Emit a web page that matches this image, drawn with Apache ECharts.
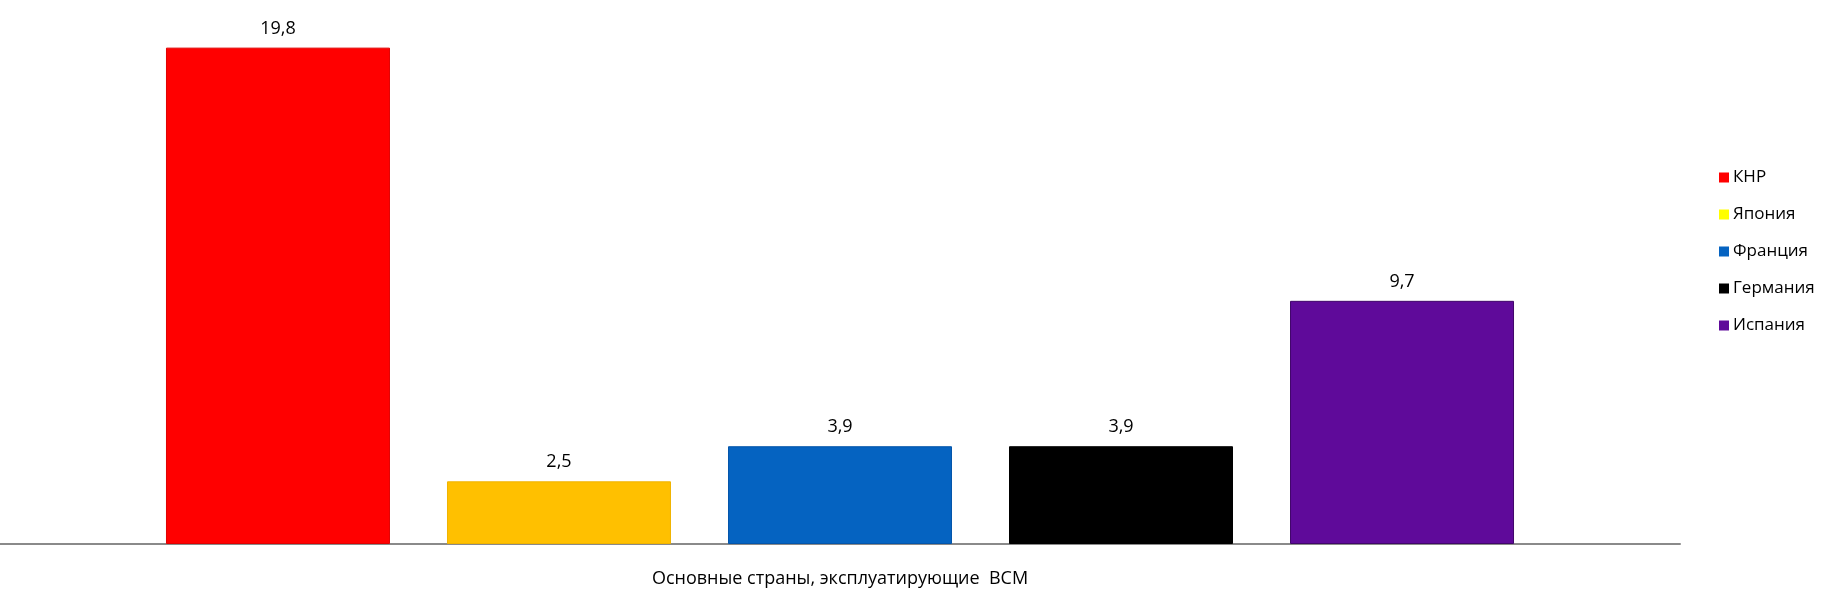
<!DOCTYPE html>
<html><head><meta charset="utf-8">
<script src="https://cdn.jsdelivr.net/npm/echarts@6/dist/echarts.min.js"></script>
<style>html,body{margin:0;padding:0;background:#fff}#c{width:1831px;height:600px}</style>
</head><body><div id="c"></div>
<script>
const categories = ['Основные страны, эксплуатирующие  ВСМ'];
const countries = ['КНР', 'Япония', 'Франция', 'Германия', 'Испания'];
const values = [19.8, 2.5, 3.9, 3.9, 9.7];
const barColors = ['#ff0000', '#ffc000', '#0563c1', '#000000', '#5f0a9a'];
const legendColors = ['#ff0000', '#ffff00', '#0563c1', '#000000', '#5f0a9a'];
const borderColors = ['#e00000', '#f0b400', '#0455aa', '#000000', '#40066a'];

const font = '"Open Sans", sans-serif';
const series = countries.map((name, i) => ({
  name: name,
  type: 'bar',
  data: [values[i]],
  barWidth: 224,
  barGap: '25.45%',
  itemStyle: { color: barColors[i], borderColor: borderColors[i], borderWidth: 1 },
  label: {
    show: true, position: 'top', distance: 10,
    color: '#000', fontSize: 18, fontFamily: font,
    formatter: p => String(p.value).replace('.', ',')
  }
}));

const chart = echarts.init(document.getElementById('c'), null, { renderer: 'canvas' });
chart.setOption({
  animation: false,
  backgroundColor: '#fff',
  grid: { left: -2, right: 151, top: 0, bottom: 56, containLabel: false },
  xAxis: {
    type: 'category', data: categories,
    axisLine: { lineStyle: { color: '#8a8a8a', width: 2 } },
    axisTick: { show: false },
    axisLabel: { color: '#000', fontSize: 18, fontFamily: font, margin: 26 }
  },
  yAxis: { type: 'value', min: 0, max: 21.7, show: false, splitLine: { show: false } },
  legend: {
    orient: 'vertical', left: 1714, top: 164,
    itemWidth: 10, itemHeight: 10, itemGap: 20, icon: 'rect',
    textStyle: { color: '#000', fontSize: 17, fontFamily: font, padding: [0, 0, 0, -1] },
    data: countries.map((n, i) => ({ name: n, itemStyle: { color: legendColors[i], borderWidth: 0 } }))
  },
  series: series
});
</script></body></html>
